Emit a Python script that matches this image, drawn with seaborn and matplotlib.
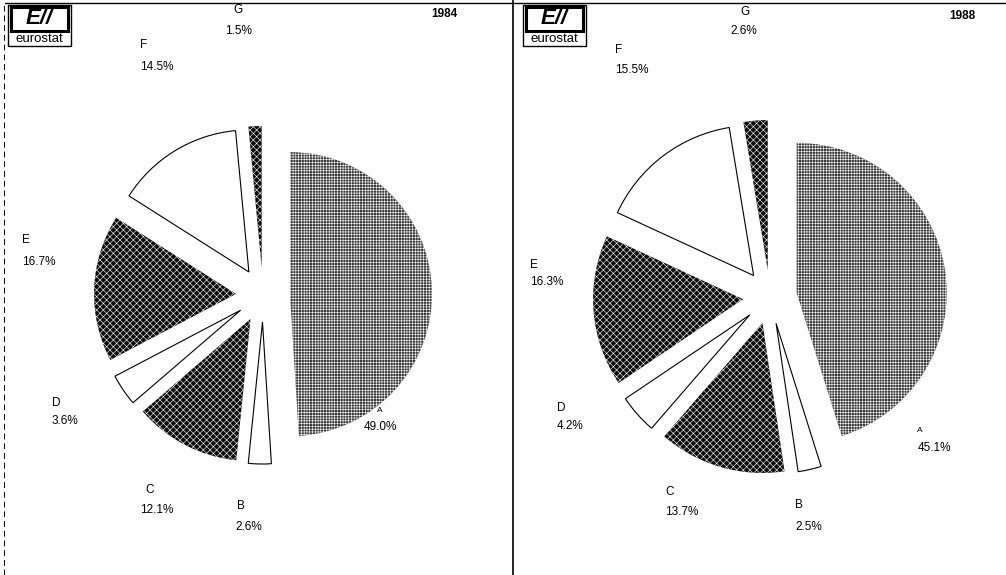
import numpy as np
import pandas as pd
import matplotlib
matplotlib.use('Agg')
import matplotlib.pyplot as plt
from matplotlib.patches import Rectangle
import seaborn as sns

#%% data
letters = ['A', 'B', 'C', 'D', 'E', 'F', 'G']
share_1984 = [49.0, 2.6, 12.1, 3.6, 16.7, 14.5, 1.5]
share_1988 = [45.1, 2.5, 13.7, 4.2, 16.3, 15.5, 2.6]
years = ['1984', '1988']

#%% style
sns.set_theme(style='white')
plt.rcParams['font.family'] = ['Liberation Sans', 'DejaVu Sans']
plt.rcParams['hatch.linewidth'] = 0.4

H = 575
fig = plt.figure(figsize=(10.06, 5.75), dpi=100)
ax = fig.add_axes([0, 0, 1, 1])

# fill style per slice: grid-gray, white, checker, white, checker, white, checker
face = {'grid': '#3a3a3a', 'check': '#0c0c0c', 'plain': 'white'}
hatch = {'grid': '++++++', 'check': 'xxxxx', 'plain': None}
kinds = ['grid', 'plain', 'check', 'plain', 'check', 'plain', 'check']

# pie geometry in pixels: centre x, centre y (from top), radius
pies = [(263, 295, 142), (770, 297, 150)]
explode_px = 27

for vals, (cx, cy, r) in zip([share_1984, share_1988], pies):
    wedges, _ = ax.pie(vals, center=(cx, H - cy), radius=r, startangle=90,
                       counterclock=False, explode=[explode_px] * len(vals),
                       colors=[face[k] for k in kinds], frame=True,
                       wedgeprops=dict(linewidth=0.8, edgecolor='black'))
    for w, k in zip(wedges, kinds):
        if hatch[k]:
            w.set_edgecolor('white')
            w.set_linewidth(0)
            w.set_hatch(hatch[k])

ax.set_xlim(0, 1006)
ax.set_ylim(0, H)
ax.set_aspect('auto')
ax.axis('off')

#%% labels (pixel positions: letter x,y and percent x,y, top-left based)
lab_pos = [
    [(377, 410), (364, 427), (237, 506), (235, 527), (145, 490), (140, 510),
     (52, 403), (52, 421), (22, 240), (22, 262), (140, 45), (140, 67),
     (233, 10), (225, 31)],
    [(917, 430), (918, 448), (795, 505), (795, 527), (665, 492), (665, 512),
     (557, 408), (557, 426), (530, 265), (530, 282), (615, 50), (615, 70),
     (740, 12), (730, 31)],
]
for vals, pos in zip([share_1984, share_1988], lab_pos):
    for i, (l, v) in enumerate(zip(letters, vals)):
        lx, ly = pos[2 * i]
        px, py = pos[2 * i + 1]
        fs_l = 6 if l == 'A' else 8.5
        ax.text(lx, H - ly, l, fontsize=fs_l, ha='left', va='center', color='black')
        ax.text(px, H - py, '{:.1f}%'.format(v), fontsize=8.5, ha='left',
                va='center', color='black')

for y, x in zip(years, [444, 962]):
    ax.text(x, H - (14 if y == '1984' else 16), y, fontsize=8.5, fontweight='bold',
            ha='center', va='center', color='black')

#%% frame lines
ax.plot([5, 1006], [H - 3, H - 3], color='black', lw=1)
ax.plot([4, 4], [0, H - 3], color='black', lw=0.7, ls=(0, (6, 4)))
ax.plot([513, 513], [0, H], color='black', lw=1.2)

#%% eurostat logos
for x0 in [8, 523]:
    ax.add_patch(Rectangle((x0, H - 46), 63, 41, fill=False, ec='black', lw=1))
    ax.add_patch(Rectangle((x0 + 3, H - 31), 57, 24, fill=False, ec='black', lw=2.2))
    ax.text(x0 + 31, H - 19, 'E//', fontsize=16, fontweight='bold', style='italic',
            ha='center', va='center', color='black')
    ax.text(x0 + 31, H - 39, 'eurostat', fontsize=9.5, ha='center', va='center',
            color='black')

fig.savefig('out.png', dpi=100)
